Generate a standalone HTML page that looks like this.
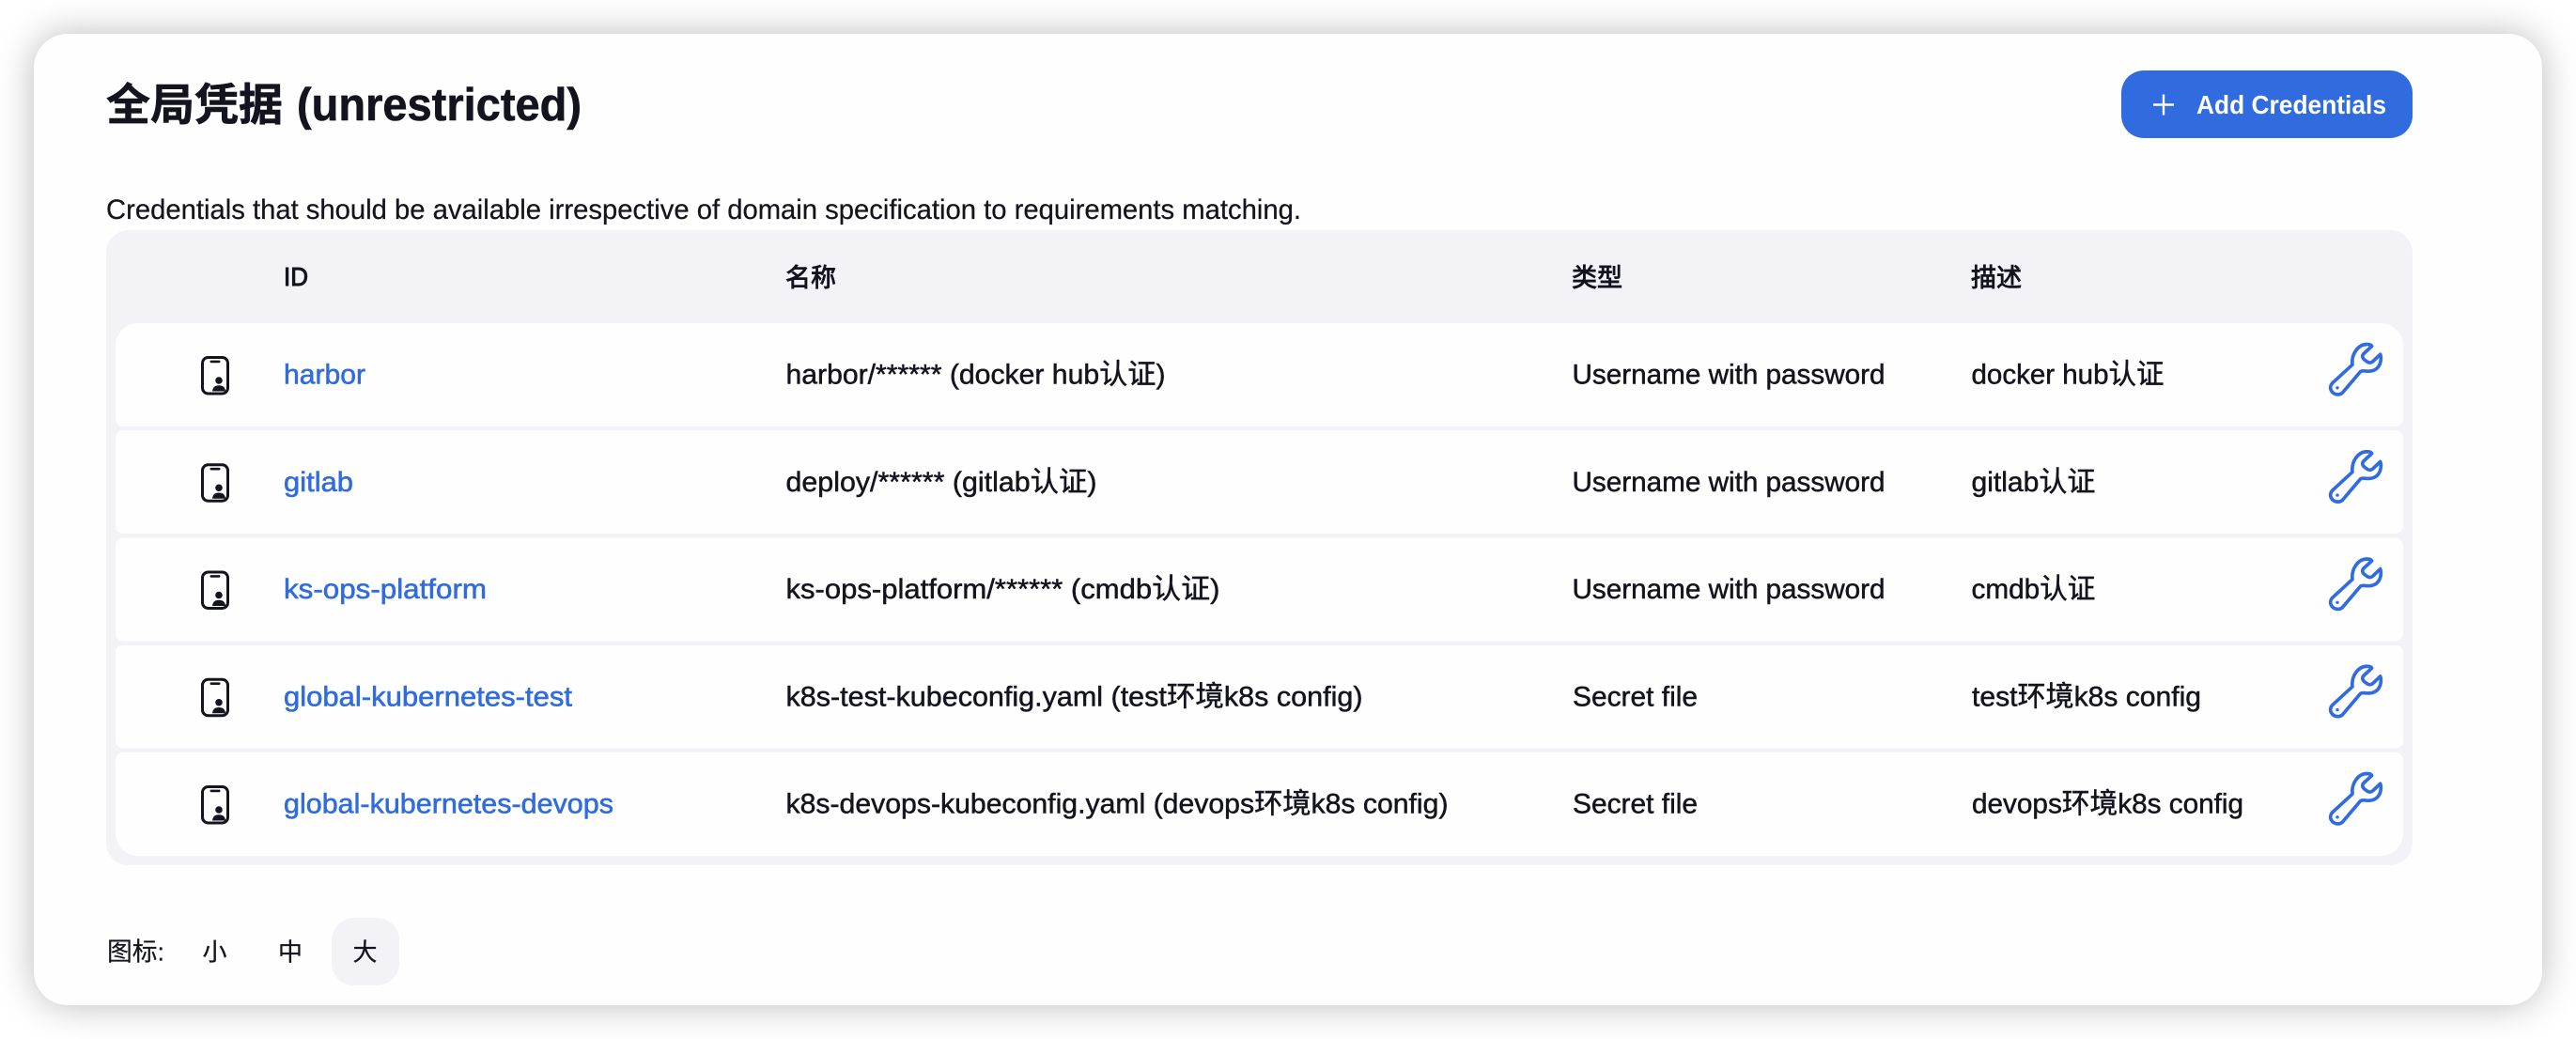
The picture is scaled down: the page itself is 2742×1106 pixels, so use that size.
<!DOCTYPE html>
<html><head><meta charset="utf-8">
<style>
html,body{margin:0;padding:0;background:#fff;width:2742px;height:1106px;overflow:hidden}
#card{position:absolute;left:36px;top:36px;width:2670px;height:1034px;border-radius:36px;background:#fefefe;box-shadow:0 0 40px rgba(0,0,0,.27)}
svg{position:absolute;left:0;top:0}
text{font-family:"Liberation Sans","Noto Sans CJK SC",sans-serif;fill:#14141f;font-size:30px;stroke:#14141f;stroke-width:.5px}
.b{font-weight:bold;stroke:none}
.l{fill:#306cdf;stroke:#306cdf;stroke-width:.6px}
</style></head><body>
<div id="card"></div>
<svg width="2742" height="1106" viewBox="0 0 2742 1106" xmlns="http://www.w3.org/2000/svg">
<defs>
<g id="phone">
<rect x="215.5" y="380.5" width="27" height="38.5" rx="6" fill="none" stroke="#14141f" stroke-width="3"/>
<rect x="223.5" y="383.6" width="11" height="2.6" rx="1.2" fill="#14141f"/>
<circle cx="233" cy="405" r="3.8" fill="#14141f"/>
<path d="M226 416.5C226.500 412 229 410.300 233 410.300C237 410.300 239.500 412 240 416.500Z" fill="#14141f"/>
</g>
<g id="wrench" transform="translate(2460,350.500) scale(.3333)">
<path d="M68 172L132 113C128 80 150 47 180 48C186 48 192 50 194 54L168 78C162 84 164 92 170 97L178 103C184 108 192 108 198 102L221 80C226 90 226 135 180 134C170 134 165 131 158 135L100 203C88 213 70 208 64 195C60 188 62 178 68 172Z" fill="none" stroke="#306cdf" stroke-width="11" stroke-linejoin="round"/>
<circle cx="84" cy="187" r="5" fill="#306cdf"/>
</g>
</defs>

<!-- heading -->
<text class="b" x="113" y="128" style="font-size:47px;stroke:#14141f;stroke-width:.6px">全局凭据</text>
<text class="b" x="316" y="128" style="font-size:49px;stroke:#14141f;stroke-width:.6px" textLength="303" lengthAdjust="spacingAndGlyphs">(unrestricted)</text>

<!-- button -->
<rect x="2258" y="75" width="310" height="72" rx="24" fill="#306cdf"/>
<path d="M2303 100.500V122.500M2292 111.500H2314" stroke="#fff" stroke-width="2.4" fill="none"/>
<text class="b" x="2338" y="121" style="fill:#fff;font-size:28px" textLength="202" lengthAdjust="spacingAndGlyphs">Add Credentials</text>

<text x="113" y="233" textLength="1272" lengthAdjust="spacingAndGlyphs" style="font-size:29.500px;stroke-width:.25px">Credentials that should be available irrespective of domain specification to requirements matching.</text>

<!-- table -->
<rect x="113" y="245" width="2455" height="676" rx="24" fill="#f2f2f7"/>
<path d="M147 344H2534A24 24 0 0 1 2558 368V446A8 8 0 0 1 2550 454H131A8 8 0 0 1 123 446V368A24 24 0 0 1 147 344Z" fill="#fefefe"/>
<rect x="123" y="458" width="2435" height="110" rx="8" fill="#fefefe"/>
<rect x="123" y="572.500" width="2435" height="110" rx="8" fill="#fefefe"/>
<rect x="123" y="686.700" width="2435" height="110" rx="8" fill="#fefefe"/>
<path d="M131 801H2550A8 8 0 0 1 2558 809V887A24 24 0 0 1 2534 911H147A24 24 0 0 1 123 887V809A8 8 0 0 1 131 801Z" fill="#fefefe"/>

<!-- header -->
<text x="302" y="304" style="font-size:28px;stroke-width:1px" textLength="26" lengthAdjust="spacingAndGlyphs">ID</text>
<text x="836" y="305" style="font-size:27px;stroke-width:.9px">名称</text>
<text x="1673" y="305" style="font-size:27px;stroke-width:.9px">类型</text>
<text x="2098" y="305" style="font-size:27px;stroke-width:.9px">描述</text>

<!-- row 1 -->
<use href="#phone"/><use href="#wrench"/>
<text class="l" x="302" y="408.500" textLength="87" lengthAdjust="spacingAndGlyphs">harbor</text>
<text x="836.500" y="408.500" textLength="404" lengthAdjust="spacingAndGlyphs">harbor/****** (docker hub认证)</text>
<text x="1673.500" y="408.500" textLength="333" lengthAdjust="spacingAndGlyphs">Username with password</text>
<text x="2098.500" y="408.500" textLength="205" lengthAdjust="spacingAndGlyphs">docker hub认证</text>

<!-- row 2 -->
<use href="#phone" y="114.250"/><use href="#wrench" y="114.250"/>
<text class="l" x="302" y="522.750" textLength="74" lengthAdjust="spacingAndGlyphs">gitlab</text>
<text x="836.500" y="522.750" textLength="331" lengthAdjust="spacingAndGlyphs">deploy/****** (gitlab认证)</text>
<text x="1673.500" y="522.750" textLength="333" lengthAdjust="spacingAndGlyphs">Username with password</text>
<text x="2098.500" y="522.750" textLength="132" lengthAdjust="spacingAndGlyphs">gitlab认证</text>

<!-- row 3 -->
<use href="#phone" y="228.500"/><use href="#wrench" y="228.500"/>
<text class="l" x="302" y="637" textLength="216" lengthAdjust="spacingAndGlyphs">ks-ops-platform</text>
<text x="836.500" y="637" textLength="462" lengthAdjust="spacingAndGlyphs">ks-ops-platform/****** (cmdb认证)</text>
<text x="1673.500" y="637" textLength="333" lengthAdjust="spacingAndGlyphs">Username with password</text>
<text x="2098.500" y="637" textLength="132" lengthAdjust="spacingAndGlyphs">cmdb认证</text>

<!-- row 4 -->
<use href="#phone" y="342.750"/><use href="#wrench" y="342.750"/>
<text class="l" x="302" y="751.250" textLength="307" lengthAdjust="spacingAndGlyphs">global-kubernetes-test</text>
<text x="836.500" y="751.250" textLength="614" lengthAdjust="spacingAndGlyphs">k8s-test-kubeconfig.yaml (test环境k8s config)</text>
<text x="1674" y="751.250" textLength="133" lengthAdjust="spacingAndGlyphs">Secret file</text>
<text x="2099" y="751.250" textLength="244" lengthAdjust="spacingAndGlyphs">test环境k8s config</text>

<!-- row 5 -->
<use href="#phone" y="457"/><use href="#wrench" y="457"/>
<text class="l" x="302" y="865.500" textLength="351" lengthAdjust="spacingAndGlyphs">global-kubernetes-devops</text>
<text x="836.500" y="865.500" textLength="705" lengthAdjust="spacingAndGlyphs">k8s-devops-kubeconfig.yaml (devops环境k8s config)</text>
<text x="1674" y="865.500" textLength="133" lengthAdjust="spacingAndGlyphs">Secret file</text>
<text x="2099" y="865.500" textLength="289" lengthAdjust="spacingAndGlyphs">devops环境k8s config</text>

<!-- footer -->
<rect x="353" y="977" width="72" height="72" rx="24" fill="#f2f2f7"/>
<text x="114" y="1022.500" style="font-size:27px;stroke-width:.2px" textLength="61" lengthAdjust="spacingAndGlyphs">图标:</text>
<text x="228.500" y="1022.500" text-anchor="middle" style="font-size:26px;stroke-width:.3px">小</text>
<text x="309" y="1022.500" text-anchor="middle" style="font-size:26px;stroke-width:.3px">中</text>
<text x="388.500" y="1022.500" text-anchor="middle" style="font-size:26px;stroke-width:.3px">大</text>
</svg>
</body></html>
